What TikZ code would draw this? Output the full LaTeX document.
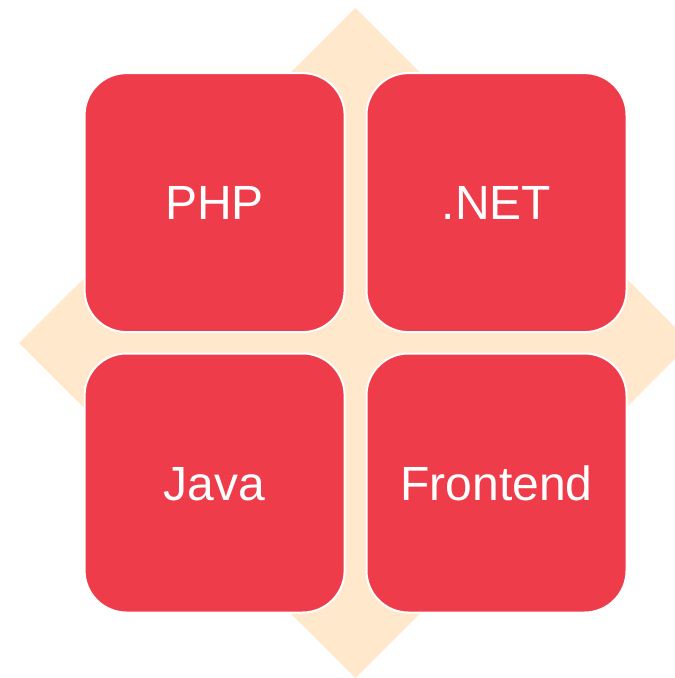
\documentclass[tikz,border=0pt]{standalone}
\usepackage{fontspec}
\setmainfont{Liberation Sans}
\definecolor{peach}{RGB}{255,232,204}
\definecolor{boxred}{RGB}{239,60,74}
\begin{document}
\begin{tikzpicture}[x=1pt,y=-1pt,
  tile/.style={rectangle, rounded corners=42pt, minimum width=260pt, minimum height=259pt,
    fill=boxred, draw=white, line width=2pt, text=white, inner sep=0pt,
    font=\fontsize{48pt}{48pt}\selectfont, text height=34.4pt, text depth=0pt}]
\useasboundingbox (0,0) rectangle (675,678);
\begin{scope}
\clip (0,0) rectangle (675,678);
\fill[peach] (355.5,8) -- (691,343) -- (355.5,678) -- (19,343) -- cycle;
\end{scope}
\node[tile] (php) at (214.6,202.6) {PHP};
\node[tile] (net) at (496.5,202.6) {.NET};
\node[tile] (java) at (214.6,483) {Java};
\node[tile] (front) at (496.5,483) {Frontend};
\end{tikzpicture}
\end{document}
